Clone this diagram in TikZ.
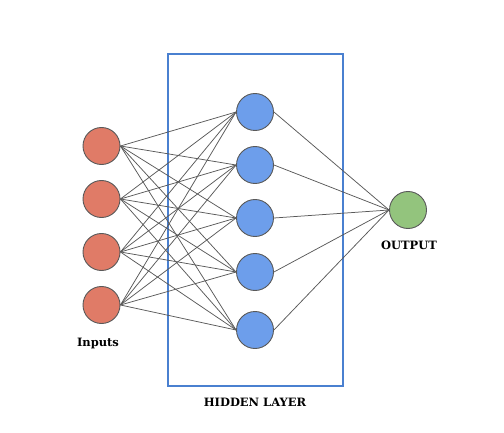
\documentclass[tikz,border=0pt]{standalone}
\usepackage{fontspec}
\setmainfont{DejaVu Serif}
\begin{document}
\begin{tikzpicture}[x=1pt,y=1pt,
  neuron/.style={circle,draw=black!65,line width=0.9pt,minimum size=37pt,inner sep=0pt},
  inp/.style={neuron,fill=inred},
  hid/.style={neuron,fill=hidblue},
  outn/.style={neuron,fill=outgreen},
  conn/.style={draw=black!65,line width=0.75pt},
  lbl/.style={font=\bfseries\fontsize{11.5}{13}\selectfont}
]
\definecolor{inred}{HTML}{E07B67}
\definecolor{hidblue}{HTML}{6D9EEB}
\definecolor{outgreen}{HTML}{93C47D}
\definecolor{boxblue}{HTML}{4A80D0}
\useasboundingbox (0,0) rectangle (504,432);
\node[draw=boxblue,line width=2pt,minimum width=175pt,minimum height=331pt,inner sep=0pt] (box) at (255,432-220) {};
\foreach \i/\y in {1/146,2/199,3/252,4/305} \node[inp] (i\i) at (101.5,432-\y) {};
\foreach \j/\y in {1/112,2/165,3/218,4/272,5/330} \node[hid] (h\j) at (255,432-\y) {};
\node[outn] (o) at (408,432-210) {};
\foreach \i in {1,...,4} \foreach \j in {1,...,5} \draw[conn] (i\i.east) -- (h\j.west);
\foreach \j in {1,...,5} \draw[conn] (h\j.east) -- (o.west);
\node[lbl] (linp) at (98,432-344) {Inputs};
\node[lbl] (lhid) at (255,432-402) {HIDDEN LAYER};
\node[lbl] (lout) at (409,432-245) {OUTPUT};
\end{tikzpicture}
\end{document}
